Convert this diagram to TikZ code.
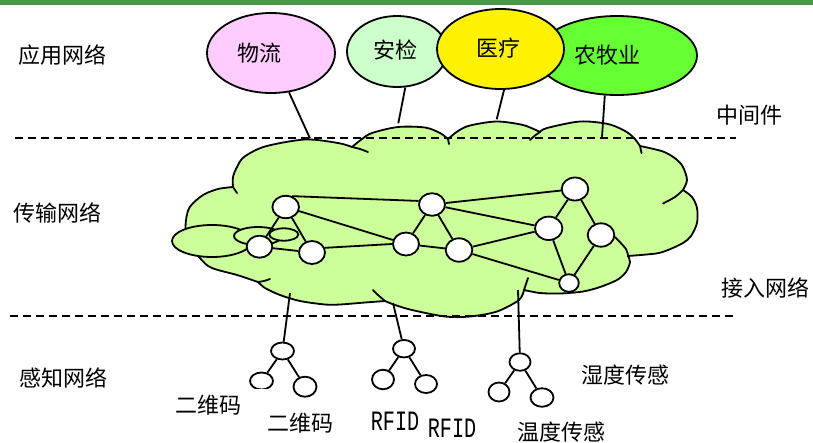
\documentclass[tikz,border=0pt]{standalone}
\usepackage{fontspec}
\usetikzlibrary{shapes.geometric}
\newfontfamily\cjk{Noto Sans CJK SC}
\newfontfamily\rfidfont[FakeStretch=0.72]{Liberation Mono}
\definecolor{cloudgreen}{RGB}{204,255,153}
\definecolor{pinkfill}{RGB}{255,204,255}
\definecolor{mintfill}{RGB}{204,255,204}
\definecolor{limefill}{RGB}{102,255,51}
\definecolor{bannergreen}{RGB}{72,150,72}
\begin{document}
\begin{tikzpicture}[x=1pt,y=-1pt,line width=1.8pt,
  oval/.style={draw=black,ellipse,inner sep=0pt},
  netnode/.style={oval,fill=white},
  lbl/.style={font=\cjk\fontsize{22}{24}\selectfont,inner sep=0pt},
  rlbl/.style={font=\rfidfont\fontsize{28}{30}\selectfont,inner sep=0pt},
  conn/.style={draw=black,line width=1.8pt},
  sepline/.style={draw=black,dash pattern=on 8pt off 5pt,line width=1.8pt},
  cloudline/.style={draw=black,line width=1.8pt,line join=round,line cap=round}]
\useasboundingbox (0,0) rectangle (813,442);
\fill[bannergreen] (0,0) rectangle (813,5);

% cloud
\path[fill=cloudgreen,cloudline]
  plot[smooth] coordinates {(233,187) (233,177) (237,167) (244,157) (265,146.5) (305,139.5) (338,143) (352,147)}
  -- plot[smooth] coordinates {(352,147) (362,139) (372,133) (398,127) (425,127.5) (440,133) (448,139)}
  -- plot[smooth] coordinates {(448,139) (458,131) (470,125.5) (496.5,121.5) (523,125) (540,132)}
  -- plot[smooth] coordinates {(540,132) (547,128) (580,121.5) (608,124) (625,131) (634,138) (640,146)}
  -- plot[smooth] coordinates {(640,146) (663,151.5) (676,159) (683,167) (687,180) (683,190)}
  -- plot[smooth] coordinates {(683,190) (692,197) (697,208) (697,223) (691,236) (683,243) (668,250) (656,253.5) (628,256)}
  -- plot[smooth] coordinates {(628,256) (630,262) (626,272) (617,280) (600,287) (583,291.5) (560,293.5) (540,293) (524,290)}
  -- plot[smooth] coordinates {(524,290) (519,300) (497,311.5) (470,316.5) (445,316.5) (412,310) (395,305) (385,301)}
  -- plot[smooth] coordinates {(385,301) (365,302.5) (340,304.5) (325,304.5) (300,301) (280,295) (265,288) (258,282)}
  -- plot[smooth] coordinates {(258,282) (237,275) (218,270) (208,266) (199,257) (192,248) (186,236) (186,220) (190,206.7) (203,195) (218,189) (233,187)}
  -- cycle;
% cloud tails
\draw[cloudline] plot[smooth] coordinates {(233,187) (235,190) (237,193)};
\draw[cloudline] plot[smooth] coordinates {(352,147) (360,149) (368,152)};
\draw[cloudline] plot[smooth] coordinates {(448,139) (449,144)};
\draw[cloudline] plot[smooth] coordinates {(540,132) (535,135.5) (530,140)};
\draw[cloudline] plot[smooth] coordinates {(640,146) (641.5,153)};
\draw[cloudline] plot[smooth] coordinates {(683,190) (675,197) (663,203.5)};
\draw[cloudline] plot[smooth] coordinates {(628,256) (626,249) (615,237)};
\draw[cloudline] plot[smooth] coordinates {(524,290) (526,284) (528,278)};
\draw[cloudline] plot[smooth] coordinates {(385,301) (378,295) (373,290)};
\draw[cloudline] plot[smooth] coordinates {(258,282) (264,281) (270,279)};

% small ellipses on the left of the cloud
\node[oval,fill=cloudgreen,minimum width=80pt,minimum height=32pt] (le1) at (212,241) {};
\node[oval,fill=cloudgreen,minimum width=48pt,minimum height=18pt] (le2) at (258,236) {};
\node[oval,fill=cloudgreen,minimum width=29pt,minimum height=12.4pt] (le3) at (283.8,234.5) {};

% separator lines
\coordinate (s1a) at (15,138); \coordinate (s1b) at (736,138);
\coordinate (s2a) at (10,316); \coordinate (s2b) at (736,316);
\draw[sepline] (s1a) -- (s1b);
\draw[sepline] (s2a) -- (s2b);

% application ellipses
\node[oval,fill=pinkfill,minimum width=128pt,minimum height=80pt] (wl) at (271,53) {};
\node[oval,fill=mintfill,minimum width=100pt,minimum height=71pt] (aj) at (397,51.5) {};
\node[oval,fill=limefill,minimum width=160pt,minimum height=79pt] (ny) at (617,55.5) {};
\node[oval,fill=yellow,minimum width=127pt,minimum height=80pt] (yl) at (500.5,49) {};
\node[lbl] (twl) at (259,53) {物流};
\node[lbl] (taj) at (395,50) {安检};
\node[lbl] (tyl) at (498,48) {医疗};
\node[lbl] (tny) at (607,55) {农牧业};

\coordinate (q1) at (310,138.3);
\coordinate (q2) at (398.3,123.3);
\coordinate (q3) at (496.7,119.3);
\coordinate (q4) at (602,137);
\draw[conn] (wl) -- (q1);
\draw[conn] (aj.-77) -- (q2);
\draw[conn] (yl.-85) -- (q3);
\draw[conn] (ny.-107) -- (q4);

% network nodes
\node[netnode,minimum width=26.6pt,minimum height=22.4pt] (A) at (285.7,207) {};
\node[netnode,minimum width=25.6pt,minimum height=22pt] (B) at (259.5,246.7) {};
\node[netnode,minimum width=26pt,minimum height=23pt] (C) at (312,252.5) {};
\node[netnode,minimum width=26pt,minimum height=22.6pt] (D) at (432,204.5) {};
\node[netnode,minimum width=26pt,minimum height=23pt] (E) at (406,244) {};
\node[netnode,minimum width=26.6pt,minimum height=23.4pt] (F) at (459,250) {};
\node[netnode,minimum width=26.6pt,minimum height=23pt] (G) at (575,189) {};
\node[netnode,minimum width=27.4pt,minimum height=23.4pt] (H) at (548.7,228.3) {};
\node[netnode,minimum width=26.6pt,minimum height=23.4pt] (I) at (601,235) {};
\node[netnode,minimum width=19.6pt,minimum height=17.6pt] (J) at (569,283) {};
\draw[conn] (A.60) -- (D.165);
\draw[conn] (A) -- (E);
\draw[conn] (A) -- (B);
\draw[conn] (A) -- (C);
\draw[conn] (B) -- (C);
\draw[conn] (C.20) -- (E.180);
\draw[conn] (D) -- (E);
\draw[conn] (D) -- (F);
\draw[conn] (E) -- (F);
\draw[conn] (D) -- (G);
\draw[conn] (D) -- (H);
\draw[conn] (F) -- (H);
\draw[conn] (F) -- (J);
\draw[conn] (G) -- (H);
\draw[conn] (G) -- (I);
\draw[conn] (H) -- (J);
\draw[conn] (I) -- (J);

% sensor trees
\coordinate (k1) at (290,293);
\coordinate (k2) at (393,303);
\coordinate (k3) at (518,290);
\node[netnode,minimum width=23pt,minimum height=17pt] (t1) at (282.5,351) {};
\begin{scope}
  \clip (240,365) rectangle (285,388.5);
  \node[netnode,minimum width=23pt,minimum height=17pt] (t1l) at (261.5,381) {};
\end{scope}
\node[netnode,minimum width=23pt,minimum height=20pt] (t1r) at (305,386.7) {};
\node[netnode,minimum width=22pt,minimum height=17.5pt] (t2) at (404,348.7) {};
\node[netnode,minimum width=22pt,minimum height=19.5pt] (t2l) at (383,379.5) {};
\node[netnode,minimum width=22pt,minimum height=18pt] (t2r) at (426,384) {};
\node[netnode,minimum width=21pt,minimum height=17.5pt] (t3) at (520,362) {};
\node[netnode,minimum width=21pt,minimum height=19pt] (t3l) at (499,392) {};
\node[netnode,minimum width=23pt,minimum height=18.5pt] (t3r) at (542,397.5) {};
\draw[conn] (t1) -- (k1);
\draw[conn] (t2) -- (k2);
\draw[conn] (t3) -- (k3);
\draw[conn] (t1) -- (t1l);
\draw[conn] (t1) -- (t1r);
\draw[conn] (t2) -- (t2l);
\draw[conn] (t2) -- (t2r);
\draw[conn] (t3) -- (t3l);
\draw[conn] (t3) -- (t3r);

% layer labels
\node[lbl] (l1) at (62,55) {应用网络};
\node[lbl] (l2) at (57,213) {传输网络};
\node[lbl] (l3) at (63.5,378) {感知网络};
\node[lbl] (r1) at (749,115) {中间件};
\node[lbl] (r2) at (765,288) {接入网络};

% sensor labels
\node[lbl] (b1) at (208,405) {二维码};
\node[lbl] (b2) at (300,423) {二维码};
\node[rlbl] (b3) at (395,421) {RFID};
\node[rlbl] (b4) at (452,428) {RFID};
\node[lbl] (b5) at (561,432) {温度传感};
\node[lbl] (b6) at (625,375) {湿度传感};
\end{tikzpicture}
\end{document}
